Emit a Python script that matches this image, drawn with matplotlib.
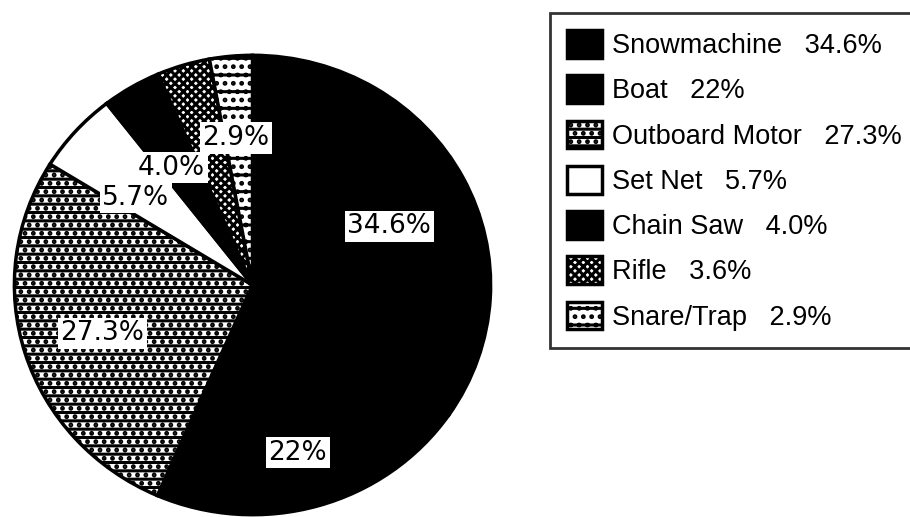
import matplotlib
matplotlib.use("Agg")
import matplotlib.pyplot as plt

plt.rcParams['font.family'] = ['Liberation Sans', 'DejaVu Sans']
plt.rcParams['hatch.linewidth'] = 2.2

# Share of equipment purchases by item (percent)
items = ["Snowmachine", "Boat", "Outboard Motor", "Set Net",
         "Chain Saw", "Rifle", "Snare/Trap"]
shares = [34.6, 22, 27.3, 5.7, 4.0, 3.6, 2.9]
share_text = ["34.6%", "22%", "27.3%", "5.7%", "4.0%", "3.6%", "2.9%"]

# fills for each wedge (face, hatch)
faces = ["black", "black", "white", "white", "black", "white", "white"]
hatches = [None, None, "--..", None, None, "xxxx", "-.."]

# where the percent tags sit inside the pie (None = no tag)
tag_xy = [(0.575, 0.255), (0.19, -0.73), (-0.63, -0.21), (-0.49, 0.38),
          (-0.34, 0.51), None, (-0.07, 0.64)]

fig = plt.figure(figsize=(9.1, 5.17), dpi=100)
ax = fig.add_axes([12 / 910, 0.0, 481 / 910, 464 / 517])

wedges, _ = ax.pie(shares, startangle=90, counterclock=False, radius=1,
                   colors=faces,
                   wedgeprops=dict(edgecolor="black", linewidth=2.5))
for w, h in zip(wedges, hatches):
    if h:
        w.set_hatch(h)

ax.set_xlim(-1.01, 1.01)
ax.set_ylim(-1.01, 1.01)
ax.set_aspect("auto")
ax.axis("off")

for txt, xy in zip(share_text, tag_xy):
    if xy is None:
        continue
    ax.text(xy[0], xy[1], txt, ha="center", va="center", fontsize=19,
            family="DejaVu Sans",
            bbox=dict(boxstyle="square,pad=0.1", fc="white", ec="none"))

labels = [f"{n}   {t}" for n, t in zip(items, share_text)]
leg = fig.legend(wedges, labels, loc="upper left",
                 bbox_to_anchor=(550 / 910, 1 - 13 / 517),
                 fontsize=19.5, frameon=True, fancybox=False,
                 handlelength=1.3, handleheight=1.2, handletextpad=0.35,
                 labelspacing=0.6, borderpad=0.63, borderaxespad=0)
leg.get_frame().set_edgecolor("black")
leg.get_frame().set_linewidth(2)

fig.savefig("out.png", dpi=100)
